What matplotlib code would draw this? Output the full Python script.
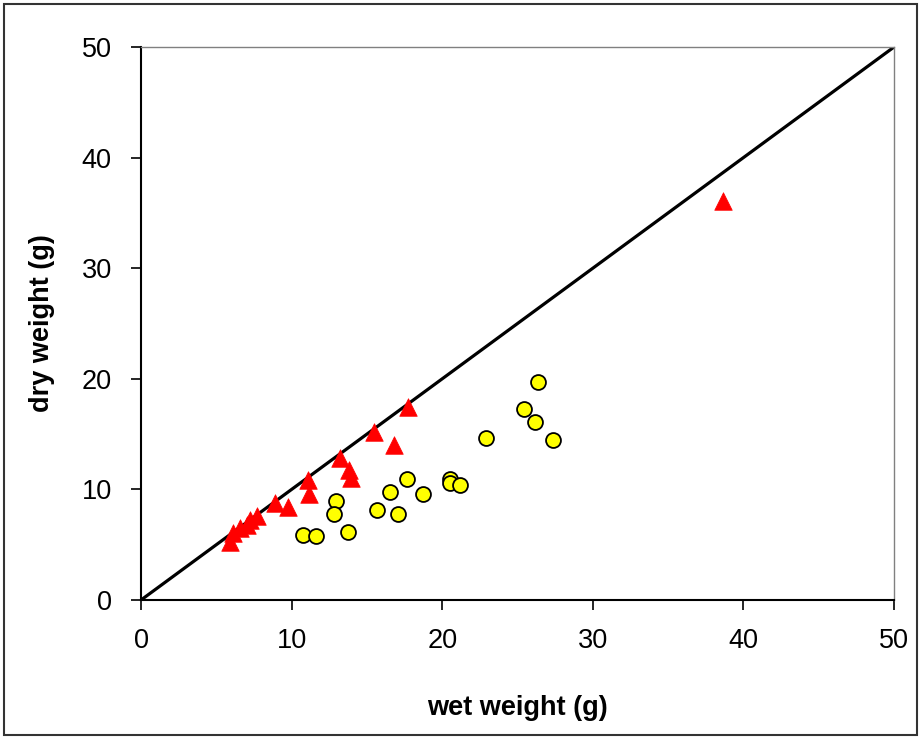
import matplotlib
matplotlib.use("Agg")
import matplotlib.pyplot as plt
from matplotlib.patches import Rectangle

plt.rcParams['font.family'] = ['Liberation Sans', 'DejaVu Sans']

# Circles (yellow)
circ_x = [26.38, 25.45, 26.16, 27.34, 22.93, 17.66, 20.54, 20.54, 21.18, 16.51,
          18.75, 12.93, 12.79, 15.65, 17.09, 10.76, 11.60, 13.75]
circ_y = [19.68, 17.24, 16.12, 14.50, 14.65, 10.91, 10.94, 10.55, 10.40, 9.74,
          9.58, 8.95, 7.80, 8.14, 7.80, 5.85, 5.82, 6.15]

# Triangles (red)
tri_x = [38.65, 17.73, 15.47, 16.78, 13.21, 13.79, 13.92, 11.07, 11.18, 8.90,
         9.74, 7.68, 7.24, 7.02, 6.57, 6.13, 5.91]
tri_y = [36.08, 17.45, 15.22, 14.01, 12.81, 11.75, 11.00, 10.85, 9.58, 8.74,
         8.44, 7.59, 7.23, 6.78, 6.48, 6.03, 5.27]

line_x = [0, 50]
line_y = [0, 50]

xticks = [0, 10, 20, 30, 40, 50]
yticks = [0, 10, 20, 30, 40, 50]

fig = plt.figure(figsize=(9.23, 7.38), dpi=100)
ax = fig.add_axes([0.1528, 0.187, 0.8158, 0.7493])

ax.plot(line_x, line_y, color='black', lw=2.3, zorder=2, solid_capstyle='butt')
ax.scatter(circ_x, circ_y, s=115, marker='o', facecolor='#FFFF00',
           edgecolor='black', linewidth=1.3, zorder=3)
ax.scatter(tri_x, tri_y, s=160, marker='^', facecolor='#FF0000',
           edgecolor='#FF0000', linewidth=0.5, zorder=4)

ax.set_xlim(0, 50)
ax.set_ylim(0, 50)
ax.set_xticks(xticks)
ax.set_yticks(yticks)
ax.tick_params(direction='out', length=7, width=1.2, labelsize=19.5, color='black')
ax.tick_params(axis='y', pad=14)
ax.tick_params(axis='x', pad=13)

for s in ['left', 'bottom']:
    ax.spines[s].set_linewidth(1.5)
    ax.spines[s].set_color('black')
for s in ['top', 'right']:
    ax.spines[s].set_linewidth(1.0)
    ax.spines[s].set_color('#808080')

ax.set_xlabel('wet weight (g)', fontsize=19.5, fontweight='bold', labelpad=30)
ax.set_ylabel('dry weight (g)', fontsize=19.5, fontweight='bold', labelpad=19)

fig.patches.append(Rectangle((4/923, 3/738), 913/923, 731/738, transform=fig.transFigure,
                             fill=False, edgecolor='#333333', linewidth=1.5))

fig.savefig('out.png', dpi=100)
